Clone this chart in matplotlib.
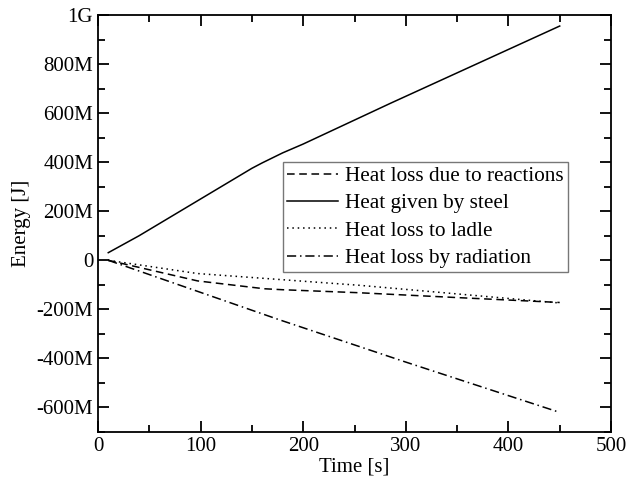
import matplotlib.pyplot as plt
from matplotlib.ticker import MultipleLocator, FuncFormatter

plt.rcParams["font.family"] = ["Liberation Serif", "DejaVu Serif"]

# data
t_steel = [10, 40, 80, 120, 150, 160, 180, 200, 285, 450]
e_steel = [31, 100, 200, 300, 375, 397, 438, 474, 640, 955]

t_react = [10, 97, 162, 180, 253, 350, 450]
e_react = [0, -84, -116, -120, -132, -152, -172]

t_ladle = [10, 97, 255, 450]
e_ladle = [0, -54, -102, -174]

t_rad = [10, 175, 300, 450]
e_rad = [0, -240, -415, -620]

labels = ["Heat loss due to reactions", "Heat given by steel",
          "Heat loss to ladle", "Heat loss by radiation"]


def energy_fmt(v, pos):
    v = round(v)
    if v == 0:
        return "0"
    if abs(v) >= 1000:
        return f"{v // 1000}G"
    return f"{v}M"


fig = plt.figure(figsize=(6.3, 4.91), dpi=100)
ax = fig.add_axes([98 / 630, 1 - 432 / 491, 513 / 630, 417 / 491])

ax.plot(t_react, e_react, color="black", lw=1.1, ls=(0, (5, 3)), label=labels[0])
ax.plot(t_steel, e_steel, color="black", lw=1.1, ls="-", label=labels[1])
ax.plot(t_ladle, e_ladle, color="black", lw=1.1, ls=(0, (1, 2.5)), label=labels[2])
ax.plot(t_rad, e_rad, color="black", lw=1.1, ls=(0, (6, 2.5, 1, 2.5)), label=labels[3])

ax.set_xlim(0, 500)
ax.set_ylim(-700, 1000)
ax.xaxis.set_major_locator(MultipleLocator(100))
ax.xaxis.set_minor_locator(MultipleLocator(50))
ax.yaxis.set_major_locator(MultipleLocator(200))
ax.yaxis.set_minor_locator(MultipleLocator(100))
ax.yaxis.set_major_formatter(FuncFormatter(energy_fmt))

ax.tick_params(which="both", direction="in", top=True, right=True, labelsize=15, width=1.3)
ax.tick_params(which="major", length=8)
ax.tick_params(which="minor", length=5)
for s in ax.spines.values():
    s.set_linewidth(1.3)

ax.set_xlabel("Time [s]", fontsize=15, labelpad=1)
ax.set_ylabel("Energy [J]", fontsize=15)

leg = ax.legend(loc="upper left", bbox_to_anchor=((283 - 98) / 513, (432 - 162) / 417),
                fontsize=15.3, frameon=True, fancybox=False, edgecolor="#555555",
                handlelength=2.4, handletextpad=0.3, borderpad=0.2, labelspacing=0.35,
                borderaxespad=0)
leg.get_frame().set_linewidth(1.0)

fig.savefig("out.png", dpi=100)
